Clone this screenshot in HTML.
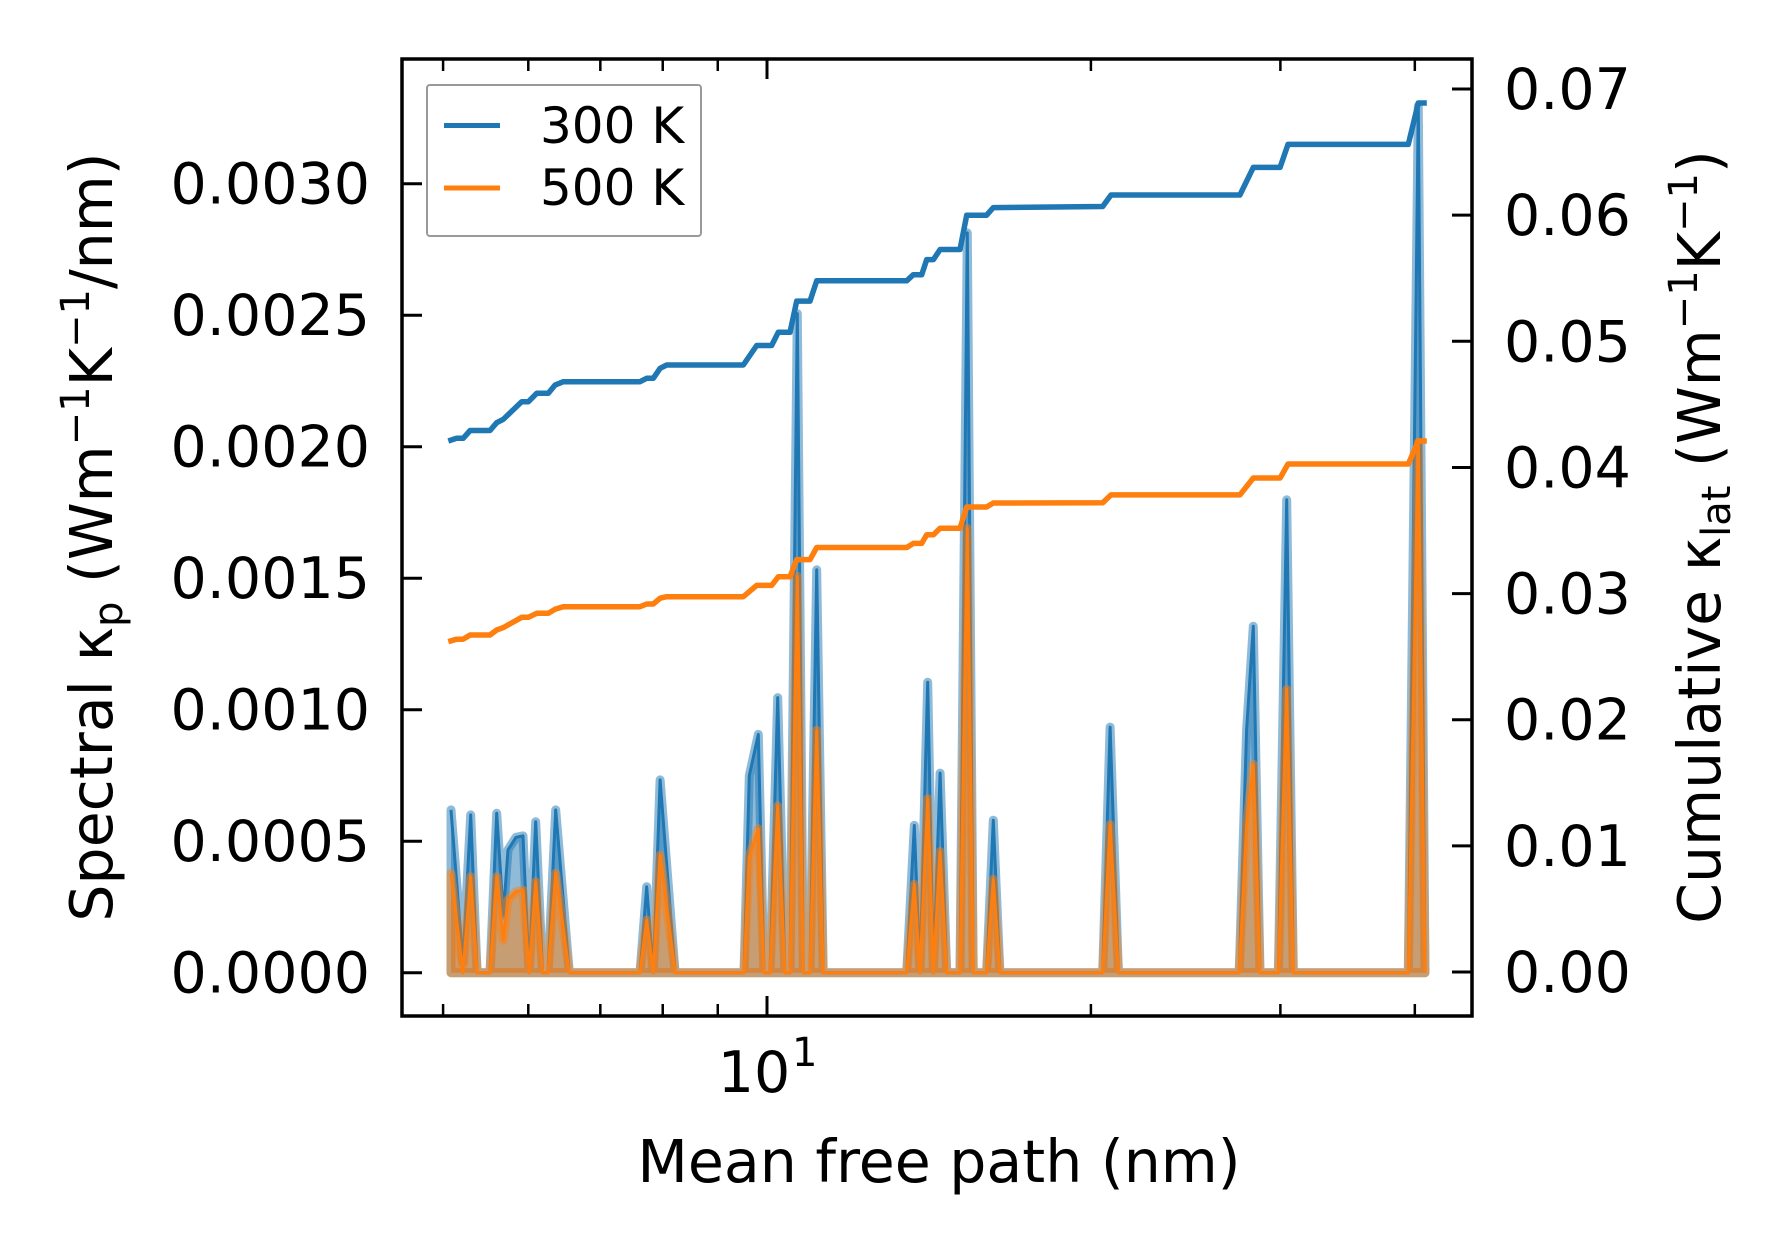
<!DOCTYPE html>
<html><head><meta charset="utf-8"><style>
html,body{margin:0;padding:0;background:#fff;}
svg{display:block;}
text{font-family:"DejaVu Sans","Liberation Sans",sans-serif;fill:#000;}
</style></head><body>
<svg id="chart" width="1790" height="1253" viewBox="0 0 1790 1253" xmlns="http://www.w3.org/2000/svg">
<rect width="1790" height="1253" fill="#fff"/>
<g id="plot"></g>
<g id="axes"></g>
<g>
  <rect x="427" y="85" width="274" height="151" rx="3" fill="#fff" fill-opacity="0.8" stroke="#999" stroke-width="2"/>
  <line x1="444" y1="125.5" x2="500" y2="125.5" stroke="#1f77b4" stroke-width="5"/>
  <text x="540" y="143" font-size="50">300 K</text>
  <line x1="444" y1="188" x2="500" y2="188" stroke="#ff7f0e" stroke-width="5"/>
  <text x="540" y="205" font-size="50">500 K</text>
</g>
<text x="939" y="1182" font-size="58.5" text-anchor="middle">Mean free path (nm)</text>
<text transform="translate(112,537) rotate(-90)" font-size="58.5" text-anchor="middle">Spectral κ<tspan font-size="40" dy="10">p</tspan><tspan dy="-10"> (Wm</tspan><tspan font-size="40" dy="-23">−1</tspan><tspan dy="23">K</tspan><tspan font-size="40" dy="-23">−1</tspan><tspan dy="23">/nm)</tspan></text>
<text transform="translate(1720,537) rotate(-90)" font-size="58.5" text-anchor="middle">Cumulative κ<tspan font-size="40" dy="10">lat</tspan><tspan dy="-10"> (Wm</tspan><tspan font-size="40" dy="-23">−1</tspan><tspan dy="23">K</tspan><tspan font-size="40" dy="-23">−1</tspan><tspan dy="23">)</tspan></text>
</svg>
<script>
// Spectral data (mean free path in nm)
const specX = [5.085,5.217,5.304,5.377,5.528,5.608,5.687,5.745,5.844,5.933,6.010,6.096,6.187,6.259,6.362,6.551,7.621,7.730,7.840,7.955,8.214,9.519,9.628,9.816,9.936,10.064,10.232,10.39,10.505,10.670,10.808,10.964,11.122,11.279,13.485,13.706,13.874,14.105,14.276,14.482,14.690,15.115,15.353,15.547,16.00,16.23,16.46,20.51,20.84,21.21,27.47,27.91,28.31,28.72,29.87,30.41,30.84,39.45,40.30,40.88];
const spec300 = [0.000619,0.00004,0.000600,0,0,0.000606,0.000219,0.000467,0.000515,0.000520,0,0.000574,0,0,0.000619,0,0,0.000327,0,0.000733,0,0,0.000749,0.000906,0,0,0.001046,0,0,0.002506,0,0,0.001532,0,0,0.000560,0,0.001104,0,0.000759,0,0,0.002813,0,0,0.000580,0,0,0.000934,0,0,0.000924,0.001317,0,0,0.001798,0,0,0.003296,0];
const spec500 = [0.000378,0,0.000365,0,0,0.000365,0.000124,0.000277,0.000308,0.000314,0,0.000346,0,0,0.000378,0,0,0.000200,0,0.000447,0,0,0.000441,0.000547,0,0,0.000634,0,0,0.001507,0,0,0.000922,0,0,0.000336,0,0.000662,0,0.000461,0,0,0.001690,0,0,0.000355,0,0,0.000563,0,0,0.000560,0.000792,0,0,0.001077,0,0,0.002018,0];
// Cumulative data
const cumX = [5.056,5.147,5.22,5.297,5.528,5.608,5.687,5.916,6.002,6.109,6.263,6.353,6.467,7.621,7.730,7.840,7.955,8.069,9.506,9.782,10.10,10.245,10.505,10.656,10.964,11.122,13.485,13.677,13.925,14.074,14.276,14.482,15.115,15.332,16.00,16.23,20.51,20.88,27.51,28.31,29.98,30.49,39.45,40.30,41.04];
const cum300 = [0.04210,0.04231,0.04231,0.04293,0.04293,0.04355,0.04382,0.04521,0.04521,0.04588,0.04588,0.04653,0.04680,0.04680,0.04707,0.04707,0.04786,0.04812,0.04812,0.04967,0.04967,0.05071,0.05071,0.05319,0.05319,0.05480,0.05480,0.05528,0.05528,0.05648,0.05648,0.05728,0.05728,0.06000,0.06000,0.06060,0.06069,0.06160,0.06160,0.06379,0.06379,0.06561,0.06561,0.06889,0.06889];
const cum500 = [0.02619,0.02638,0.02638,0.02672,0.02672,0.02711,0.02730,0.02812,0.02812,0.02844,0.02844,0.02875,0.02896,0.02896,0.02917,0.02917,0.02963,0.02975,0.02975,0.03065,0.03065,0.03133,0.03133,0.03269,0.03269,0.03365,0.03365,0.03398,0.03398,0.03466,0.03466,0.03518,0.03518,0.03686,0.03686,0.03718,0.03720,0.03782,0.03782,0.03916,0.03916,0.04027,0.04027,0.04210,0.04210];
const leftTicks = [0,0.0005,0.001,0.0015,0.002,0.0025,0.003];
const leftTickLabels = ["0.0000","0.0005","0.0010","0.0015","0.0020","0.0025","0.0030"];
const rightTicks = [0,0.01,0.02,0.03,0.04,0.05,0.06,0.07];
const rightTickLabels = ["0.00","0.01","0.02","0.03","0.04","0.05","0.06","0.07"];
const minorX = [5,6,7,8,9,20,30,40];

const L=402,R=1472,T=59,B=1016;
function xs(v){return 767+1076*Math.log10(v/10);}
function yl(v){return 972.7-v/0.0005*131.5;}
function yr(v){return 972-v*12614;}
const NS="http://www.w3.org/2000/svg";
function mk(tag,attrs,parent){const e=document.createElementNS(NS,tag);for(const k in attrs)e.setAttribute(k,attrs[k]);parent.appendChild(e);return e;}
const plot=document.getElementById('plot');
const axes=document.getElementById('axes');

function drawSpec(vals,color,name){
  let pts=specX.map((x,i)=>xs(x).toFixed(1)+','+yl(vals[i]).toFixed(1));
  let poly='M'+xs(specX[0]).toFixed(1)+','+yl(0).toFixed(1)+' L'+pts.join(' L')+' L'+xs(specX[specX.length-1]).toFixed(1)+','+yl(0).toFixed(1)+' Z';
  const f=mk('path',{d:poly,fill:color,'fill-opacity':0.5,stroke:color,'stroke-opacity':0.5,'stroke-width':9,'stroke-linejoin':'round'},plot);
  
  
  const l=mk('polyline',{points:pts.join(' '),fill:'none',stroke:color,'stroke-width':3,'stroke-linejoin':'round'},plot);
  
  
}
drawSpec(spec300,'#1f77b4','spectral-300k');
drawSpec(spec500,'#ff7f0e','spectral-500k');
function drawCum(vals,color,name){
  const pts=cumX.map((x,i)=>xs(x).toFixed(1)+','+yr(vals[i]).toFixed(1));
  const l=mk('polyline',{points:pts.join(' '),fill:'none',stroke:color,'stroke-width':5.5,'stroke-linejoin':'round'},plot);
  
  
}
drawCum(cum300,'#1f77b4','cumulative-300k');
drawCum(cum500,'#ff7f0e','cumulative-500k');

leftTicks.forEach((v,i)=>{
  const y=yl(v);
  const t=mk('line',{x1:L,x2:L+20,y1:y,y2:y,stroke:'#000','stroke-width':3},axes);
  
  
  const tx=mk('text',{x:370,y:y+20,'font-size':57,'text-anchor':'end'},axes);
  tx.textContent=leftTickLabels[i];
  
  
});
rightTicks.forEach((v,i)=>{
  const y=yr(v);
  const t=mk('line',{x1:R-20,x2:R,y1:y,y2:y,stroke:'#000','stroke-width':3},axes);
  
  
  const tx=mk('text',{x:1504,y:y+20,'font-size':57},axes);
  tx.textContent=rightTickLabels[i];
  
  
});
minorX.forEach(v=>{
  const x=xs(v);
  [[B,B-12],[T,T+12]].forEach(p=>{
    const t=mk('line',{x1:x,x2:x,y1:p[0],y2:p[1],stroke:'#000','stroke-width':2.5},axes);
    
    
  });
});
[[B,B-20],[T,T+20]].forEach(p=>{
  const t=mk('line',{x1:xs(10),x2:xs(10),y1:p[0],y2:p[1],stroke:'#000','stroke-width':3},axes);
  
  
});
const xl=mk('text',{x:xs(10)-13,y:1092,'font-size':57,'text-anchor':'middle'},axes);
xl.textContent='10';


const xsup=mk('text',{x:xs(10)+25,y:1066,'font-size':40},axes);
xsup.textContent='1';


const fr=mk('rect',{x:L,y:T,width:R-L,height:B-T,fill:'none',stroke:'#000','stroke-width':3.5},axes);


</script>
</body></html>
